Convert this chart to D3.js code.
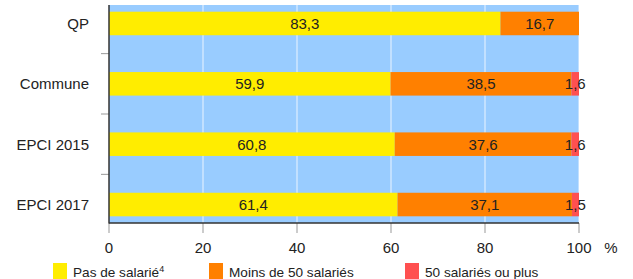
<!DOCTYPE html>
<html><head><meta charset="utf-8">
<script src="https://cdn.jsdelivr.net/npm/d3@7"></script>
<style>
html,body{margin:0;padding:0;background:#fff;}
svg{display:block;font-family:"Liberation Sans",Arial,sans-serif;}
</style></head>
<body>
<svg id="c" width="633" height="279"></svg>
<script>
const categories = ["QP", "Commune", "EPCI 2015", "EPCI 2017"];
const seriesNames = ["Pas de salarié", "Moins de 50 salariés", "50 salariés ou plus"];
const seriesNotes = ["4", "", ""];
const pasDeSalarie = [83.3, 59.9, 60.8, 61.4];
const moinsDe50 = [16.7, 38.5, 37.6, 37.1];
const cinquanteOuPlus = [0, 1.6, 1.6, 1.5];
const xTicks = [0, 20, 40, 60, 80, 100];
const colors = ["#ffed00", "#ff8000", "#ff5050"];

const svg = d3.select("#c");
const x = d3.scaleLinear().domain([0, 100]).range([109, 579]);
const y = d3.scaleBand().domain(categories).range([-6.7, 234.7]).paddingInner(0.61).paddingOuter(0.305);
const plotTop = 5, plotBottom = 223;
const txt = "#222";

svg.append("rect").attr("x", x(0)).attr("y", plotTop).attr("width", x(100) - x(0)).attr("height", plotBottom - plotTop).attr("fill", "#99ccff");
svg.append("g").selectAll("line").data(xTicks.filter(d => d > 0)).join("line")
  .attr("x1", d => x(d)).attr("x2", d => x(d)).attr("y1", plotTop).attr("y2", plotBottom)
  .attr("stroke", "#fff").attr("stroke-opacity", 0.8).attr("stroke-width", 1);

const series = [pasDeSalarie, moinsDe50, cinquanteOuPlus];
const fmt = v => String(v.toFixed(1)).replace(".", ",");

categories.forEach((c, i) => {
  let acc = 0;
  series.forEach((s, k) => {
    const v = s[i];
    if (v > 0) {
      svg.append("rect").attr("x", x(acc)).attr("y", y(c)).attr("width", x(acc + v) - x(acc)).attr("height", y.bandwidth()).attr("fill", colors[k]);
    }
    acc += v;
  });
});
categories.forEach((c, i) => {
  let acc = 0;
  series.forEach((s, k) => {
    const v = s[i];
    if (v > 0) {
      svg.append("text").attr("x", x(acc + v / 2)).attr("y", y(c) + y.bandwidth() / 2).attr("dy", "0.36em")
        .attr("text-anchor", "middle").attr("font-size", 15).attr("fill", txt).text(fmt(v));
    }
    acc += v;
  });
});

const bounds = categories.slice(1).map(c => y(c) - (y.step() - y.bandwidth()) / 2);
svg.append("g").selectAll("line").data(bounds).join("line")
  .attr("x1", 101).attr("x2", x(0)).attr("y1", d => d).attr("y2", d => d).attr("stroke", "#999");
svg.append("g").selectAll("text").data(categories).join("text")
  .attr("x", 89).attr("y", d => y(d) + y.bandwidth() / 2).attr("dy", "0.36em")
  .attr("text-anchor", "end").attr("font-size", 15).attr("fill", txt).text(d => d);

svg.append("g").selectAll("line").data(xTicks).join("line")
  .attr("x1", d => x(d)).attr("x2", d => x(d)).attr("y1", plotBottom).attr("y2", 233).attr("stroke", "#999");
svg.append("g").selectAll("text").data(xTicks).join("text")
  .attr("x", d => x(d)).attr("y", 253).attr("text-anchor", "middle").attr("font-size", 15).attr("fill", txt).text(d => d);
svg.append("text").attr("x", 611).attr("y", 253).attr("text-anchor", "middle").attr("font-size", 15).attr("fill", txt).text("%");

svg.append("line").attr("x1", x(0)).attr("x2", x(0)).attr("y1", plotTop).attr("y2", plotBottom + 0.5).attr("stroke", "#333").attr("stroke-width", 1.5);
svg.append("line").attr("x1", x(0)).attr("x2", x(100)).attr("y1", plotBottom).attr("y2", plotBottom).attr("stroke", "#333").attr("stroke-width", 1.5);

const legX = [53, 209, 405];
seriesNames.forEach((n, k) => {
  svg.append("rect").attr("x", legX[k]).attr("y", 263).attr("width", 14).attr("height", 16).attr("fill", colors[k]);
  const t = svg.append("text").attr("x", legX[k] + 20).attr("y", 277).attr("font-size", 13.6).attr("fill", txt).text(n);
  if (seriesNotes[k]) t.append("tspan").attr("font-size", 9).attr("dy", -5).text(seriesNotes[k]);
});
</script>
</body></html>
